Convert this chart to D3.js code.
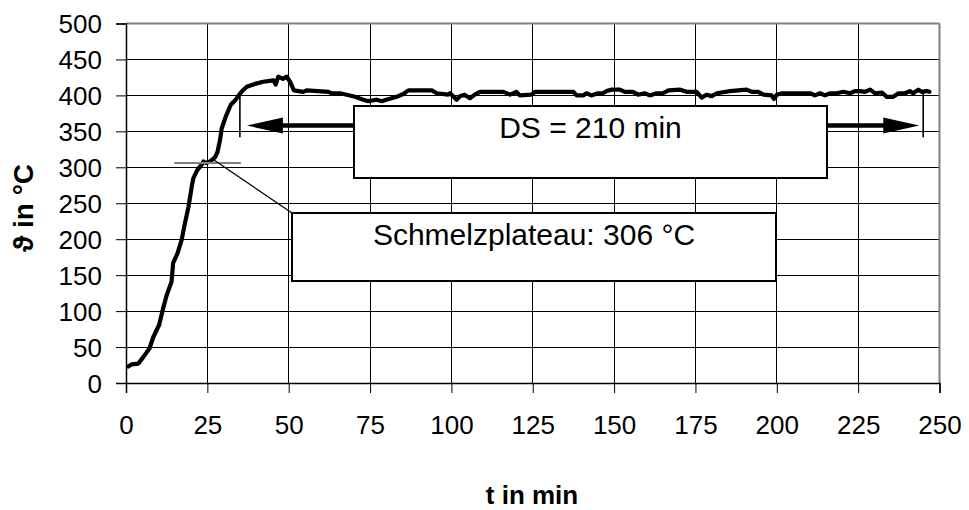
<!DOCTYPE html>
<html>
<head>
<meta charset="utf-8">
<script src="https://cdn.jsdelivr.net/npm/d3@7"></script>
<style>
  html, body { margin: 0; padding: 0; background: #fff; }
  svg { display: block; font-family: "Liberation Sans", Arial, sans-serif; }
</style>
</head>
<body>
<svg id="chart" width="969" height="510"></svg>
<script>
// Temperature log of the melt: time in minutes, temperature in °C
const timeMin = [0.7, 1.8, 3.8, 5.3, 7.2, 8.4, 10.2, 11.3, 12.5, 14, 14.5, 15.8, 17.1, 18.1, 19.2, 20.2, 20.7, 21.9, 23.3, 23.8,
  24.6, 25.8, 27.4, 28.1, 28.9, 29.4, 30.7, 32.2, 33.5, 35.5, 37.1, 39.6, 42.2, 45.3, 46, 46.8, 48.2, 49.4, 50.4, 51.6,
  54.5, 55.5, 62.2, 63.2, 65.8, 67.8, 70.4, 72.9, 74.5, 77, 78.6, 80, 83.2, 85.2, 86.8, 94, 95.5, 99, 99.6, 101.6,
  102.7, 104, 105.7, 107.2, 108.8, 116, 118, 120, 121, 124.6, 125.7, 137.5, 138.5, 140.5, 141.5, 143, 145, 146.5, 147.7, 149.3,
  151.8, 153.3, 155.8, 157.4, 159.4, 161, 163, 165, 166.7, 170.3, 172.3, 175.4, 176.9, 178.5, 180, 181.6, 185.6, 190.7, 192.3, 194.3,
  195.9, 198.4, 199.1, 200, 201.6, 210.3, 211.7, 213.3, 214.8, 216.4, 218.4, 220.5, 222.5, 224, 225.6, 227.1, 228.7, 230.2, 232.3, 233.8,
  235.8, 237.4, 239.4, 240.9, 241.9, 243.5, 244.5, 246.1, 246.9];
const tempC = [23, 26, 27, 36, 48, 64, 81, 102, 122, 141, 167, 180, 199, 222, 245, 273, 285, 296, 304, 308,
  306, 308, 314, 321, 338, 354, 371, 387, 393, 405, 412, 416, 419, 421, 415, 426, 423, 426, 419, 407,
  405, 407, 405, 403, 403, 401, 398, 394, 392, 394, 392, 394, 398, 402, 407, 407, 403, 401, 403, 394,
  399, 401, 396, 401, 405, 405, 401, 405, 400, 401, 405, 405, 400, 400, 403, 400, 403, 403, 406, 408,
  408, 405, 405, 401, 403, 400, 403, 403, 407, 408, 405, 405, 397, 401, 399, 403, 406, 408, 405, 405,
  401, 400, 395, 401, 403, 403, 400, 403, 400, 403, 403, 405, 403, 406, 406, 405, 408, 403, 404, 398,
  398, 403, 403, 406, 403, 408, 405, 406, 405];

const xTicks = [0, 25, 50, 75, 100, 125, 150, 175, 200, 225, 250];
const yTicks = [0, 50, 100, 150, 200, 250, 300, 350, 400, 450, 500];

// Annotations
const plateauTemp = 306;          // melting plateau, °C
const plateauSpan = [14.8, 35.3]; // extent of the marker line, min
const dsStart = 35;               // start of holding time, min
const dsMinutes = 210;            // holding time DS, min
const dsArrowTemp = 358;          // height of the DS arrows, °C
const dsMarkTop = 404;            // top of the DS boundary marks, °C
const plateauLabel = "Schmelzplateau: " + plateauTemp + " °C";
const dsLabel = "DS = " + dsMinutes + " min";

const svg = d3.select("#chart");
const x = d3.scaleLinear().domain([0, 250]).range([126, 939.5]);
const y = d3.scaleLinear().domain([0, 500]).range([383, 23.5]);

// grid
const grid = svg.append("g").attr("stroke", "#000").attr("stroke-width", 1).attr("shape-rendering", "crispEdges");
grid.selectAll("line.h").data(yTicks.filter(d => d > 0 && d < 500)).join("line")
  .attr("x1", x(0)).attr("x2", x(250)).attr("y1", d => y(d)).attr("y2", d => y(d));
grid.selectAll("line.v").data(xTicks.filter(d => d > 0 && d < 250)).join("line")
  .attr("class", "v")
  .attr("y1", y(0)).attr("y2", y(500)).attr("x1", d => x(d)).attr("x2", d => x(d));

// frame: grey top and right edges
svg.append("line").attr("x1", x(0)).attr("x2", x(250)).attr("y1", y(500)).attr("y2", y(500))
  .attr("stroke", "#808080").attr("stroke-width", 2);
svg.append("line").attr("x1", x(250)).attr("x2", x(250)).attr("y1", y(500)).attr("y2", y(0))
  .attr("stroke", "#808080").attr("stroke-width", 2);

// axes
const xAxis = d3.axisBottom(x).tickValues(xTicks).tickSize(10).tickPadding(23).tickFormat(d3.format("d"));
const yAxis = d3.axisLeft(y).tickValues(yTicks).tickSize(10).tickPadding(14).tickFormat(d3.format("d"));
const gx = svg.append("g").attr("transform", `translate(0,${y(0)})`).call(xAxis);
const gy = svg.append("g").attr("transform", `translate(${x(0)},0)`).call(yAxis);
[gx, gy].forEach(g => {
  g.select(".domain").attr("stroke", "#000").attr("stroke-width", 1.5);
  g.selectAll(".tick line").attr("stroke", "#000").attr("stroke-width", 1);
  g.selectAll(".tick text").attr("fill", "#000")
    .style("font-family", "'Liberation Sans', Arial, sans-serif").style("font-size", "26px");
});
gy.selectAll(".tick text").attr("dy", "0.35em");
gx.selectAll(".tick text").attr("dy", "0.71em");

// axis titles
svg.append("text").attr("x", 532).attr("y", 504).attr("text-anchor", "middle")
  .style("font-size", "26px").style("font-weight", "bold").text("t in min");
svg.append("text").attr("transform", "translate(33,208) rotate(-90)").attr("text-anchor", "middle")
  .style("font-size", "28px").style("font-weight", "bold").text("ϑ in °C");

// temperature curve
const pts = timeMin.map((t, i) => [t, tempC[i]]);
svg.append("path").datum(pts)
  .attr("d", d3.line().x(d => x(d[0])).y(d => y(d[1])))
  .attr("fill", "none").attr("stroke", "#000").attr("stroke-width", 4.2)
  .attr("stroke-linejoin", "round").attr("stroke-linecap", "round");

// melting plateau marker and leader
svg.append("line").attr("x1", x(plateauSpan[0])).attr("x2", x(plateauSpan[1]))
  .attr("y1", y(plateauTemp)).attr("y2", y(plateauTemp))
  .attr("stroke", "#808080").attr("stroke-width", 2);
const box1 = { x: 292, y: 213, w: 484, h: 68 };
svg.append("line").attr("x1", 214).attr("y1", y(plateauTemp) - 3).attr("x2", box1.x).attr("y2", box1.y)
  .attr("stroke", "#000").attr("stroke-width", 1.3);
svg.append("rect").attr("x", box1.x).attr("y", box1.y).attr("width", box1.w).attr("height", box1.h)
  .attr("fill", "#fff").attr("stroke", "#000").attr("stroke-width", 2);
svg.append("text").attr("x", box1.x + box1.w / 2).attr("y", 245).attr("text-anchor", "middle")
  .style("font-size", "30px").text(plateauLabel);

// holding time DS
const dsEnd = dsStart + dsMinutes;
const ya = y(dsArrowTemp);
[dsStart, dsEnd].forEach(t => {
  svg.append("line").attr("x1", x(t)).attr("x2", x(t)).attr("y1", y(dsMarkTop)).attr("y2", y(350) + 6)
    .attr("stroke", "#000").attr("stroke-width", 1.6);
});
const box2 = { x: 354, y: 106, w: 473, h: 72 };
const headLen = 36, headHalf = 8;
// left arrow
svg.append("line").attr("x1", x(dsStart) + 8 + headLen - 2).attr("x2", box2.x).attr("y1", ya).attr("y2", ya)
  .attr("stroke", "#000").attr("stroke-width", 4.5);
svg.append("path")
  .attr("d", `M${x(dsStart) + 7},${ya} L${x(dsStart) + 7 + headLen},${ya - headHalf} L${x(dsStart) + 7 + headLen},${ya + headHalf} Z`)
  .attr("fill", "#000");
// right arrow
svg.append("line").attr("x1", box2.x + box2.w).attr("x2", x(dsEnd) - 5 - headLen + 2).attr("y1", ya).attr("y2", ya)
  .attr("stroke", "#000").attr("stroke-width", 4.5);
svg.append("path")
  .attr("d", `M${x(dsEnd) - 4},${ya} L${x(dsEnd) - 4 - headLen},${ya - headHalf} L${x(dsEnd) - 4 - headLen},${ya + headHalf} Z`)
  .attr("fill", "#000");
svg.append("rect").attr("x", box2.x).attr("y", box2.y).attr("width", box2.w).attr("height", box2.h)
  .attr("fill", "#fff").attr("stroke", "#000").attr("stroke-width", 2);
svg.append("text").attr("x", box2.x + box2.w / 2).attr("y", 138).attr("text-anchor", "middle")
  .style("font-size", "30px").text(dsLabel);
</script>
</body>
</html>
